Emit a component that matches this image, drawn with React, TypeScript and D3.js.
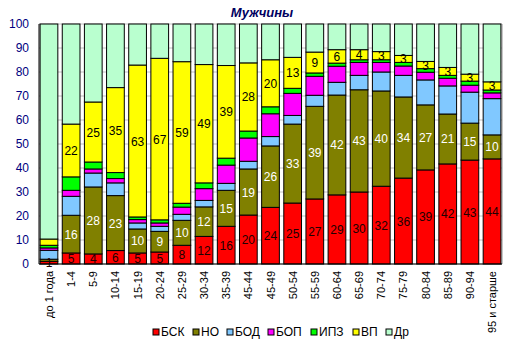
import React from 'react';
import * as d3 from 'd3';

const categories = ['до 1 года', '1-4', '5-9', '10-14', '15-19', '20-24', '25-29', '30-34', '35-39', '45-44', '45-49',
  '50-54', '55-59', '60-64', '65-69', '70-74', '75-79', '80-84', '85-89', '90-94', '95 и старше'];

const seriesNames = ['БСК', 'НО', 'БОД', 'БОП', 'ИПЗ', 'ВП', 'Др'];
const colors = ['#ff0000', '#808000', '#80c8ff', '#ff00ff', '#00ff00', '#ffff00', '#b9ffcf'];

const bsk = [1.1, 4.6, 4.2, 5.6, 4.6, 5.0, 7.8, 11.5, 15.7, 20.4, 23.6, 25.4, 27.1, 28.8, 30.0, 32.4, 35.8, 39.2, 41.7, 43.3, 43.8];
const no = [0.9, 15.7, 27.9, 22.9, 10.0, 8.6, 10.4, 12.3, 15.0, 19.2, 25.6, 32.9, 38.6, 41.6, 42.6, 39.7, 33.8, 27.1, 20.8, 15.4, 10.0];
const bod = [3.7, 7.9, 5.8, 5.3, 2.5, 2.1, 2.5, 2.7, 2.9, 3.2, 3.9, 3.6, 4.6, 5.3, 6.0, 7.9, 9.0, 10.4, 11.7, 12.9, 15.1];
const bop = [1.0, 2.5, 1.7, 1.8, 1.4, 1.4, 3.0, 4.9, 7.6, 9.7, 9.5, 9.2, 7.9, 6.7, 5.4, 4.0, 3.9, 3.2, 3.2, 2.9, 2.4];
const ipz = [1.1, 5.6, 2.9, 2.5, 1.1, 1.3, 1.6, 2.4, 2.9, 2.9, 2.9, 2.1, 1.4, 1.3, 1.1, 1.1, 1.5, 1.5, 1.2, 1.7, 1.2];
const vp = [2.6, 22.0, 25.0, 35.4, 63.3, 67.3, 59.0, 49.3, 38.6, 28.4, 19.6, 12.9, 8.7, 5.6, 4.2, 3.4, 2.9, 3.0, 3.3, 2.9, 3.4];
const dr = [89.6, 41.7, 32.5, 26.5, 17.1, 14.3, 15.7, 16.9, 17.3, 16.2, 14.9, 13.9, 11.7, 10.7, 10.7, 11.5, 13.1, 15.6, 18.1, 20.9, 24.1];

const yTicks = [0, 10, 20, 30, 40, 50, 60, 70, 80, 90, 100];

const width = 518;
const height = 353;
const margin = { top: 24, right: 16, bottom: 89, left: 39 };
const font = '"Liberation Sans", Arial, sans-serif';

export default function App() {
  const values = [bsk, no, bod, bop, ipz, vp, dr];
  const rows = categories.map((c, i) => {
    const r: any = { cat: c };
    seriesNames.forEach((s, k) => { r[s] = values[k][i]; });
    return r;
  });
  const stacked = d3.stack().keys(seriesNames)(rows);

  const x = d3.scaleBand().domain(categories)
    .range([margin.left, width - margin.right])
    .paddingInner(0.2).paddingOuter(0.05);
  const y = d3.scaleLinear().domain([0, 100]).range([height - margin.bottom, margin.top]);

  // which series get value labels and in what colour
  const labelColor: Record<string, string> = { 'БСК': '#200000', 'НО': '#ffffff', 'ВП': '#000000' };

  const legendX = [153, 193, 227, 268, 311, 353, 386];

  return (
    <svg width={width} height={height} style={{ position: 'absolute', left: 0, top: 0, background: '#fff' }}>
      <text x={262} y={17} textAnchor="middle" fontFamily={font} fontSize={13} fontWeight="bold"
        fontStyle="italic" fill="#000060">Мужчины</text>

      {yTicks.map(t => (
        <g key={t}>
          <line x1={margin.left} x2={width - margin.right} y1={y(t)} y2={y(t)} stroke="#c0c0c0" />
          <text x={margin.left - 10} y={y(t) + 4} textAnchor="end" fontFamily={font} fontSize={12} fill="#000080">{t}</text>
        </g>
      ))}
      <line x1={width - margin.right} x2={width - margin.right} y1={margin.top} y2={y(0)} stroke="#909090" />

      {stacked.map((layer, k) => (
        <g key={layer.key}>
          {layer.map((d, i) => (
            <rect key={i} x={x(categories[i])} width={x.bandwidth()} y={y(d[1])} height={y(d[0]) - y(d[1])}
              fill={colors[k]} stroke="#000" strokeWidth={1} />
          ))}
        </g>
      ))}

      {stacked.map((layer) => labelColor[layer.key] ? (
        <g key={'l' + layer.key}>
          {layer.map((d, i) => {
            if (layer.key !== 'БСК' && i === 0) return null;
            const v = d[1] - d[0];
            return (
              <text key={i} x={(x(categories[i]) as number) + x.bandwidth() / 2} y={y((d[0] + d[1]) / 2) + 4.5}
                textAnchor="middle" fontFamily={font} fontSize={12} fill={labelColor[layer.key]}>{Math.round(v)}</text>
            );
          })}
        </g>
      ) : null)}

      <line x1={margin.left} x2={margin.left} y1={margin.top} y2={y(0)} stroke="#000" />
      <line x1={margin.left} x2={width - margin.right} y1={y(0)} y2={y(0)} stroke="#000" />

      {categories.map(c => {
        const cx = (x(c) as number) + x.bandwidth() / 2;
        return (
          <text key={c} transform={`translate(${cx + 4},${y(0) + 7}) rotate(-90)`} textAnchor="end"
            fontFamily={font} fontSize={11} fill="#000">{c}</text>
        );
      })}

      {seriesNames.map((s, k) => (
        <g key={s}>
          <rect x={legendX[k]} y={329} width={6} height={6} fill={colors[k]} stroke="#000" />
          <text x={legendX[k] + 8} y={336} fontFamily={font} fontSize={12} fill="#000">{s}</text>
        </g>
      ))}
    </svg>
  );
}
